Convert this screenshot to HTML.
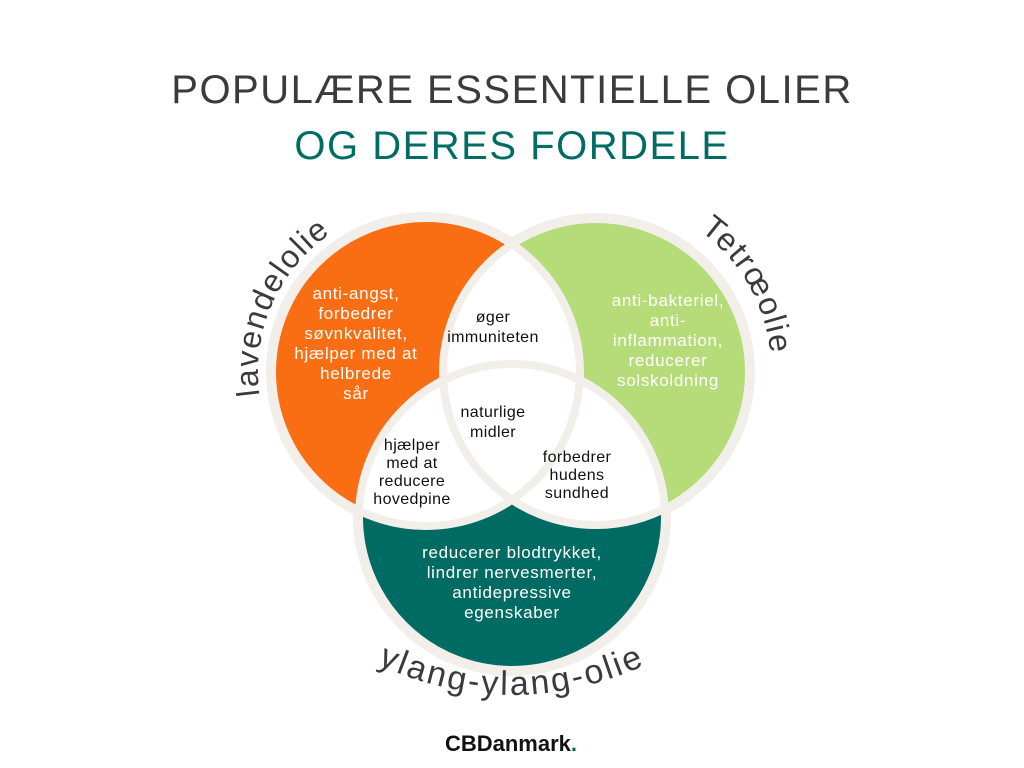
<!DOCTYPE html>
<html><head><meta charset="utf-8"><style>
html,body{margin:0;padding:0;background:#fff;}
svg{display:block;font-family:"Liberation Sans",sans-serif;}
</style></head><body>
<svg width="1024" height="768" viewBox="0 0 1024 768">
<defs>
<clipPath id="cO"><circle cx="426" cy="372" r="154"/></clipPath>
<clipPath id="cG"><circle cx="596" cy="372" r="153"/></clipPath>
<path id="pL" d="M 259.6 395.4 A 168 168 0 0 1 368.5 214"/>
<path id="pR" d="M 683 220 A 172 172 0 0 1 770 390"/>
<path id="pB" d="M 340 645 Q 512 745 684 645"/>
</defs>
<text x="512" y="103" text-anchor="middle" font-size="40" fill="#3b3b3b" letter-spacing="1.5">POPULÆRE ESSENTIELLE OLIER</text>
<text x="512" y="159" text-anchor="middle" font-size="40" fill="#006d64" letter-spacing="1.5">OG DERES FORDELE</text>

<g>
<circle cx="426" cy="372" r="160" fill="#f2efea"/>
<circle cx="596" cy="372" r="159" fill="#f2efea"/>
<circle cx="512" cy="517" r="159" fill="#f2efea"/>
<circle cx="426" cy="372" r="154" fill="#f96e12"/>
<circle cx="596" cy="372" r="153" fill="#b5dc78"/>
<circle cx="512" cy="517" r="153" fill="#006b63"/>
<circle cx="596" cy="372" r="153" fill="#fff" clip-path="url(#cO)"/>
<circle cx="512" cy="517" r="153" fill="#fff" clip-path="url(#cO)"/>
<circle cx="512" cy="517" r="153" fill="#fff" clip-path="url(#cG)"/>
<g fill="none" stroke="#f2efea" stroke-width="8">
<circle cx="426" cy="372" r="154"/>
<circle cx="596" cy="372" r="153"/>
<circle cx="512" cy="517" r="153"/>
</g>
</g>

<g font-size="17" fill="#fff" text-anchor="middle" letter-spacing="0.7">
<text x="356" y="299">anti-angst,</text>
<text x="356" y="319">forbedrer</text>
<text x="356" y="339">søvnkvalitet,</text>
<text x="356" y="359">hjælper med at</text>
<text x="356" y="379">helbrede</text>
<text x="356" y="399">sår</text>
<text x="668" y="306">anti-bakteriel,</text>
<text x="668" y="326">anti-</text>
<text x="668" y="346">inflammation,</text>
<text x="668" y="366">reducerer</text>
<text x="668" y="386">solskoldning</text>
<text x="512" y="558">reducerer blodtrykket,</text>
<text x="512" y="578">lindrer nervesmerter,</text>
<text x="512" y="598">antidepressive</text>
<text x="512" y="618">egenskaber</text>
</g>
<g font-size="16" fill="#111" text-anchor="middle" letter-spacing="0.4">
<text x="493" y="322">øger</text>
<text x="493" y="342">immuniteten</text>
<text x="493" y="417">naturlige</text>
<text x="493" y="437">midler</text>
<text x="412" y="450">hjælper</text>
<text x="412" y="468">med at</text>
<text x="412" y="486">reducere</text>
<text x="412" y="504">hovedpine</text>
<text x="577" y="462">forbedrer</text>
<text x="577" y="480">hudens</text>
<text x="577" y="498">sundhed</text>
</g>

<g font-size="32" fill="#3b3b3b" letter-spacing="1.5">
<text><textPath href="#pL">lavendelolie</textPath></text>
<text><textPath href="#pR" startOffset="20">Tetrœolie</textPath></text>
<text text-anchor="middle" font-size="34" letter-spacing="2.5"><textPath href="#pB" startOffset="50%">ylang-ylang-olie</textPath></text>
</g>

<text x="511" y="751" text-anchor="middle" font-size="22" font-weight="bold" fill="#111">CBDanmark<tspan fill="#006b63">.</tspan></text>
</svg>
</body></html>
